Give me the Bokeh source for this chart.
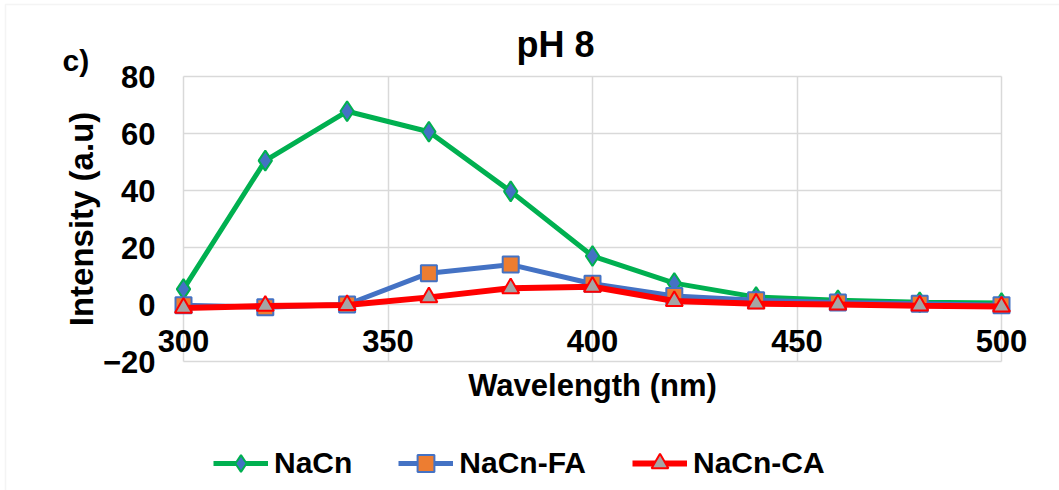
from bokeh.plotting import figure
from bokeh.models import (Range1d, FixedTicker, Legend, LegendItem, Label,
                          LinearAxis, BoxAnnotation)
from bokeh.embed import file_html
from bokeh.resources import INLINE

wavelength = [300, 320, 340, 360, 380, 400, 420, 440, 460, 480, 500]
nacn = [5.4, 50.5, 67.8, 60.6, 39.7, 17.0, 7.5, 2.6, 1.5, 0.8, 0.5]
nacn_fa = [-0.3, -1.0, 0.0, 11.0, 14.0, 7.3, 3.0, 1.5, 0.7, 0.3, -0.3]
nacn_ca = [-1.2, -0.5, -0.2, 2.5, 5.7, 6.2, 1.2, 0.3, 0.0, -0.4, -0.7]
x_ticks = [300, 350, 400, 450, 500]
y_ticks = [-20, 0, 20, 40, 60, 80]
series_names = ["NaCn", "NaCn-FA", "NaCn-CA"]
title_text = "pH 8"
panel_text = "c)"
x_title = "Wavelength (nm)"
y_title = "Intensity (a.u)"

FONT = "Liberation Sans"
GRID = "#d9d9d9"

# canvas and plot-area geometry (pixels)
W, H = 1059, 490
PL, PR, PT, PB = 183, 1001, 76, 361
x0, x1 = x_ticks[0], x_ticks[-1]
y0, y1 = y_ticks[0], y_ticks[-1]
xs = (x1 - x0) / (PR - PL)
ys = (y1 - y0) / (PB - PT)
x_range = Range1d(x0 - PL * xs, x1 + (W - PR) * xs)
y_range = Range1d(y0 - (H - PB) * ys, y1 + PT * ys)

p = figure(width=W, height=H, output_backend="svg", toolbar_location=None,
           x_range=x_range, y_range=y_range,
           x_axis_location=None, y_axis_location=None,
           min_border=0)
p.outline_line_color = None
p.background_fill_color = "white"
p.border_fill_color = "white"

# outer chart border (top and left edges visible)
p.add_layout(BoxAnnotation(left=5, right=W + 50, top=H - 4, bottom=-50,
                           left_units="screen", right_units="screen",
                           top_units="screen", bottom_units="screen",
                           fill_alpha=0, line_color=GRID, line_width=1.5,
                           level="underlay"))

# grid lines restricted to the plot area
p.xgrid.ticker = FixedTicker(ticks=x_ticks)
p.ygrid.ticker = FixedTicker(ticks=y_ticks)
for g in (p.xgrid, p.ygrid):
    g.grid_line_color = GRID
    g.grid_line_width = 1.5
try:
    p.xgrid.cross_bounds = (y0, y1)
    p.ygrid.cross_bounds = (x0, x1)
except Exception:
    p.xgrid.visible = False
    p.ygrid.visible = False
    p.segment(x0=x_ticks, y0=[y0] * len(x_ticks), x1=x_ticks, y1=[y1] * len(x_ticks),
              line_color=GRID, line_width=1.5, level="underlay")
    p.segment(x0=[x0] * len(y_ticks), y0=y_ticks, x1=[x1] * len(y_ticks), y1=y_ticks,
              line_color=GRID, line_width=1.5, level="underlay")

# x axis crossing at y = 0
xaxis = LinearAxis(fixed_location=0, bounds=(x0, x1), ticker=FixedTicker(ticks=x_ticks))
xaxis.axis_line_color = None
xaxis.major_tick_line_color = None
xaxis.minor_tick_line_color = None
xaxis.major_tick_out = 0
xaxis.major_label_text_font = FONT
xaxis.major_label_text_font_style = "bold"
xaxis.major_label_text_font_size = "31px"
xaxis.major_label_text_color = "black"
xaxis.major_label_standoff = 25
xaxis.axis_label = x_title
xaxis.axis_label_text_font = FONT
xaxis.axis_label_text_font_style = "bold"
xaxis.axis_label_text_font_size = "31px"
xaxis.axis_label_text_color = "black"
xaxis.axis_label_standoff = 13
p.add_layout(xaxis, "below")

# y axis at x = 300
yaxis = LinearAxis(fixed_location=x0, bounds=(y0, y1), ticker=FixedTicker(ticks=y_ticks))
yaxis.axis_line_color = None
yaxis.major_tick_line_color = None
yaxis.minor_tick_line_color = None
yaxis.major_tick_out = 0
yaxis.major_label_text_font = FONT
yaxis.major_label_text_font_style = "bold"
yaxis.major_label_text_font_size = "31px"
yaxis.major_label_text_color = "black"
yaxis.major_label_standoff = 28
yaxis.axis_label = y_title
yaxis.axis_label_text_font = FONT
yaxis.axis_label_text_font_style = "bold"
yaxis.axis_label_text_font_size = "33px"
yaxis.axis_label_text_color = "black"
yaxis.axis_label_standoff = 0
p.add_layout(yaxis, "left")

# series
l1 = p.line(wavelength, nacn, line_color="#00B050", line_width=5)
m1 = p.scatter(wavelength, nacn, marker="diamond", size=20,
               fill_color="#4472C4", line_color="#00B050", line_width=2)
l2 = p.line(wavelength, nacn_fa, line_color="#4472C4", line_width=5)
m2 = p.scatter(wavelength, nacn_fa, marker="square", size=16,
               fill_color="#ED7D31", line_color="#4472C4", line_width=2)
l3 = p.line(wavelength, nacn_ca, line_color="#FF0000", line_width=6)
m3 = p.scatter(wavelength, nacn_ca, marker="triangle", size=17,
               fill_color="#A5A5A5", line_color="#FF0000", line_width=2)

legend = Legend(items=[LegendItem(label=series_names[0], renderers=[l1, m1]),
                       LegendItem(label=series_names[1], renderers=[l2, m2]),
                       LegendItem(label=series_names[2], renderers=[l3, m3])],
                orientation="horizontal", location=(213, 6),
                glyph_width=55, glyph_height=42, label_height=30,
                label_standoff=6, spacing=46, padding=0, margin=0,
                border_line_color=None, background_fill_alpha=0,
                label_text_font=FONT, label_text_font_style="bold",
                label_text_font_size="30px", label_text_color="black",
                label_text_baseline="middle")
p.add_layout(legend, "center")

p.add_layout(Label(x=555, y=H - 44, x_units="screen", y_units="screen",
                   text=title_text, text_align="center",
                   text_baseline="alphabetic", text_font=FONT,
                   text_font_style="bold", text_font_size="36px",
                   text_color="black"))
p.add_layout(Label(x=62, y=H - 60, x_units="screen", y_units="screen",
                   text=panel_text, text_align="left",
                   text_baseline="alphabetic", text_font=FONT,
                   text_font_style="bold", text_font_size="30px",
                   text_color="black"))

open("out.html", "w").write(file_html(p, INLINE))
